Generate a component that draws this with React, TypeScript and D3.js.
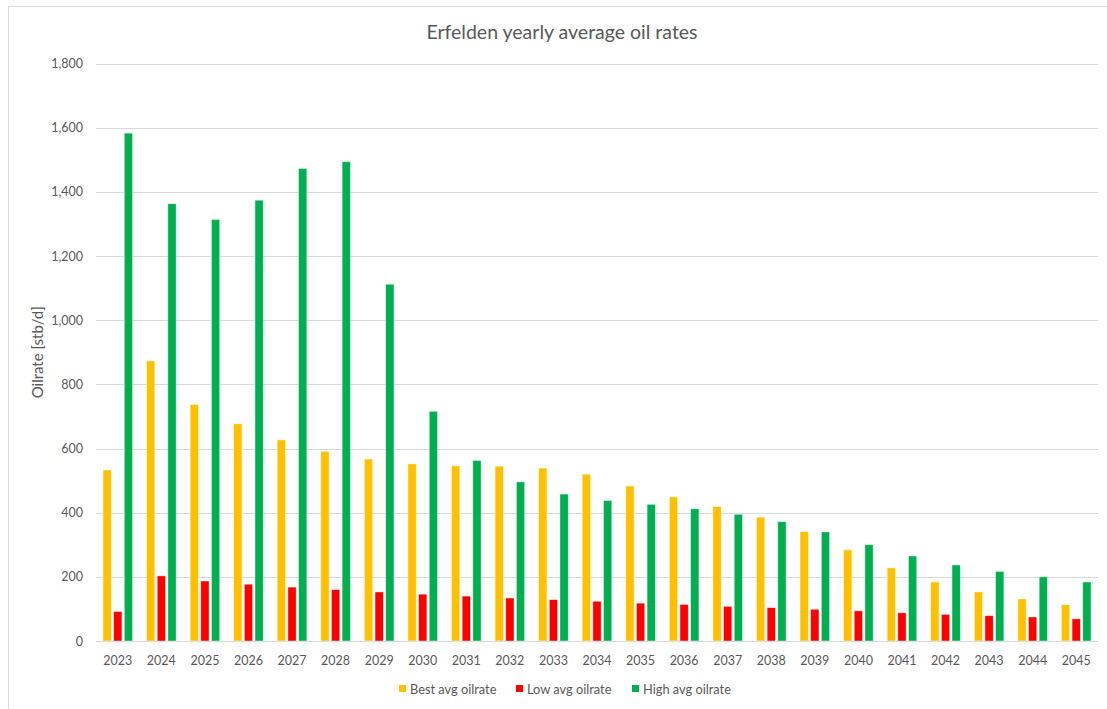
import React from "react";
import * as d3 from "d3";

const years = ["2023","2024","2025","2026","2027","2028","2029","2030","2031","2032","2033","2034","2035","2036","2037","2038","2039","2040","2041","2042","2043","2044","2045"];
const bestAvg = [533, 873, 737, 677, 627, 591, 567, 552, 546, 545, 539, 520, 483, 449, 419, 386, 341, 284, 228, 184, 153, 131, 113];
const lowAvg = [92, 203, 187, 177, 168, 160, 153, 146, 140, 134, 129, 124, 118, 114, 108, 104, 99, 94, 88, 83, 79, 75, 69];
const highAvg = [1583, 1363, 1314, 1374, 1473, 1494, 1112, 716, 563, 496, 458, 438, 426, 412, 395, 372, 340, 300, 265, 237, 217, 200, 184];
const yTicks = [0, 200, 400, 600, 800, 1000, 1200, 1400, 1600, 1800];

const seriesNames = ["Best avg oilrate", "Low avg oilrate", "High avg oilrate"];
const seriesColors = ["#FFC000", "#FF0000", "#00B050"];
const seriesData = [bestAvg, lowAvg, highAvg];

const W = 1107, H = 709;
const plotL = 96, plotR = 1098, plotT = 63.5, plotB = 641;
const font = "Lato, 'Open Sans', sans-serif";
const txt = "#595959";

export default function App() {
  const x = d3.scaleBand<string>().domain(years).range([plotL, plotR]).paddingInner(0).paddingOuter(0);
  const y = d3.scaleLinear().domain([0, 1800]).range([plotB, plotT]);
  const inner = d3.scaleBand<number>().domain([0, 1, 2]).range([-14.8, 14.8]).paddingInner(0.22);
  const fmt = d3.format(",");

  const legendX = [399, 516, 632];

  return (
    <div style={{ position: "absolute", left: 0, top: 0 }}>
      <svg width={W} height={H} style={{ display: "block", background: "#fff" }}>
        <rect x={8.5} y={6.5} width={1120} height={720} fill="#fff" stroke="#D9D9D9" strokeWidth={1} />
        <text x={562} y={39} textAnchor="middle" fontFamily={font} fontSize={19.5} fill={txt}>
          Erfelden yearly average oil rates
        </text>
        {yTicks.map((t) => (
          <g key={t}>
            <line x1={plotL} x2={plotR} y1={Math.round(y(t)) + 0.5} y2={Math.round(y(t)) + 0.5} stroke="#D9D9D9" strokeWidth={1} />
            <text x={83} y={y(t) + 4.5} textAnchor="end" fontFamily={font} fontSize={12.5} fill={txt}>
              {fmt(t)}
            </text>
          </g>
        ))}
        {seriesData.map((arr, si) =>
          arr.map((v, i) => {
            const cx = (x(years[i]) as number) + x.bandwidth() / 2;
            const bx = cx + (inner(si) as number);
            return (
              <rect
                key={`${si}-${i}`}
                x={bx}
                y={y(v)}
                width={inner.bandwidth()}
                height={y(0) - y(v)}
                fill={seriesColors[si]}
                stroke="#fff"
                strokeOpacity={0.6}
                strokeWidth={0.75}
              />
            );
          })
        )}
        {years.map((yr) => (
          <text key={yr} x={(x(yr) as number) + x.bandwidth() / 2} y={664.5} textAnchor="middle" fontFamily={font} fontSize={12.5} fill={txt}>
            {yr}
          </text>
        ))}
        <text transform={`translate(${43},${(plotT + plotB) / 2}) rotate(-90)`} textAnchor="middle" fontFamily={font} fontSize={15} fill={txt}>
          Oilrate [stb/d]
        </text>
        {seriesNames.map((n, i) => (
          <g key={n}>
            <rect x={legendX[i]} y={685} width={7} height={7} fill={seriesColors[i]} />
            <text x={legendX[i] + 11} y={693.5} fontFamily={font} fontSize={12.8} fill={txt}>
              {n}
            </text>
          </g>
        ))}
      </svg>
    </div>
  );
}
